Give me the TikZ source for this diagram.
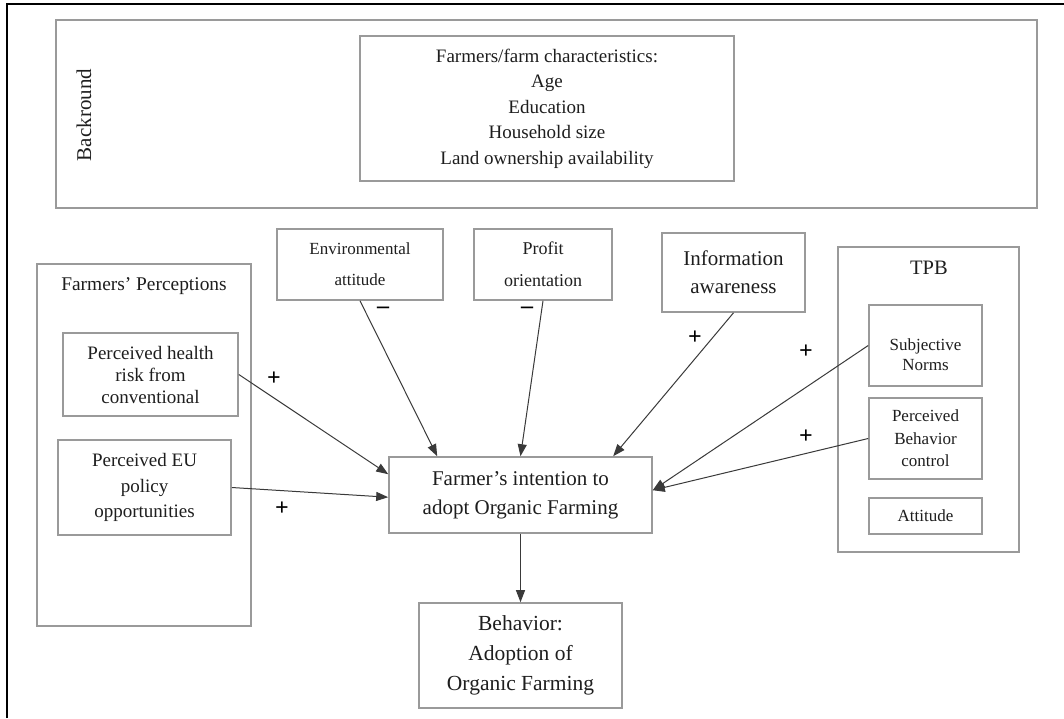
\documentclass[tikz,border=0pt]{standalone}
\usepackage{fontspec}
\setmainfont{Liberation Serif}
\usetikzlibrary{arrows.meta,calc}
\definecolor{boxgray}{HTML}{9A9A9A}
\definecolor{arrgray}{HTML}{3A3A3A}
\definecolor{txtcol}{HTML}{1E1E1E}
\newcommand{\fsz}[2]{\fontsize{#1}{#2}\selectfont}
\tikzset{
  box/.style={draw=boxgray, line width=1.6pt, rectangle, inner sep=0pt, fill=white},
  txt/.style={text=txtcol, align=center, inner sep=0pt},
  conn/.style={draw=arrgray, line width=1pt, -{Triangle[length=12pt,width=9pt]}},
  sign/.style={text=black, inner sep=0pt, font=\fsz{24}{24}\bfseries},
}
\begin{document}
\begin{tikzpicture}[x=1pt,y=-1pt]
\useasboundingbox (0,0) rectangle (1064,718);
\fill[white] (0,0) rectangle (1064,718);
% outer frame (left and top)
\draw[black, line width=1.3pt] (7,718) -- (7,4) -- (1064,4);

% background area
\node[box, minimum width=981pt, minimum height=188pt] (bg) at (546.5,114) {};
\node[txt, rotate=90, font=\fsz{21}{21}] (bglab) at (84,115) {Backround};
\node[box, minimum width=374pt, minimum height=145pt, txt, font=\fsz{19}{25.5}] (chars) at (547,108.5)
  {Farmers/farm characteristics:\\Age\\Education\\Household size\\Land ownership availability};

% farmers' perceptions
\node[box, minimum width=214pt, minimum height=362pt] (perc) at (144,445) {};
\node[txt, font=\fsz{19.4}{22}] (perclab) at (144,286) {Farmers’ Perceptions};
\node[box, minimum width=175pt, minimum height=83pt, txt, font=\fsz{19}{22}] (health) at (150.5,374.5)
  {Perceived health\\risk from\\conventional};
\node[box, minimum width=173pt, minimum height=95pt, txt, font=\fsz{19}{25.5}] (eu) at (144.5,487.5)
  {Perceived EU\\policy\\opportunities};

% top factors
\node[box, minimum width=166pt, minimum height=71pt, txt, font=\fsz{17}{31}] (env) at (360,264.5)
  {Environmental\\attitude};
\node[box, minimum width=138pt, minimum height=71pt, txt, font=\fsz{18}{32}] (profit) at (543,264.5)
  {Profit\\orientation};
\node[box, minimum width=143pt, minimum height=79pt, txt, font=\fsz{21}{28}] (info) at (733.5,272.5)
  {Information\\awareness};

% TPB
\node[box, minimum width=181pt, minimum height=305pt] (tpb) at (928.5,399.5) {};
\node[txt, font=\fsz{20.5}{22}] (tpblab) at (929,268) {TPB};
\node[box, minimum width=113pt, minimum height=81pt] (sn) at (925.5,345.5) {};
\node[txt, font=\fsz{17}{20}] (snlab) at (925.5,355) {Subjective\\Norms};
\node[box, minimum width=113pt, minimum height=81pt, txt, font=\fsz{17}{22.5}] (pbc) at (925.5,438.5)
  {Perceived\\Behavior\\control};
\node[box, minimum width=113pt, minimum height=36pt, txt, font=\fsz{17}{20}] (att) at (925.5,516)
  {Attitude};

% center
\node[box, minimum width=263pt, minimum height=76pt, txt, font=\fsz{21}{29}] (int) at (520.5,495)
  {Farmer’s intention to\\adopt Organic Farming};
\node[box, minimum width=203pt, minimum height=105pt, txt, font=\fsz{21.5}{30}] (beh) at (520.5,655.5)
  {Behavior:\\Adoption of\\Organic Farming};

% connectors
\draw[conn] (env.south) -- ($(int.north west)+(49,0)$);
\draw[conn] (profit.south) -- (int.north);
\draw[conn] (info.south) -- ($(int.north west)+(225,0)$);
\draw[conn] (sn.west) -- ($(int.north east)+(0,34)$);
\draw[conn] (pbc.west) -- ($(int.north east)+(0,34)$);
\draw[conn] (health.east) -- ($(int.north west)+(0,18)$);
\draw[conn] (eu.east) -- ($(int.north west)+(0,41)$);
\draw[conn] (int.south) -- (beh.north);

% signs
\node[sign] (s1) at (383,310) {–};
\node[sign] (s2) at (527,310) {–};
\node[sign] (s3) at (274,379) {+};
\node[sign] (s4) at (282,509) {+};
\node[sign] (s5) at (695,338) {+};
\node[sign] (s6) at (806,352) {+};
\node[sign] (s7) at (806,437) {+};
\end{tikzpicture}
\end{document}
